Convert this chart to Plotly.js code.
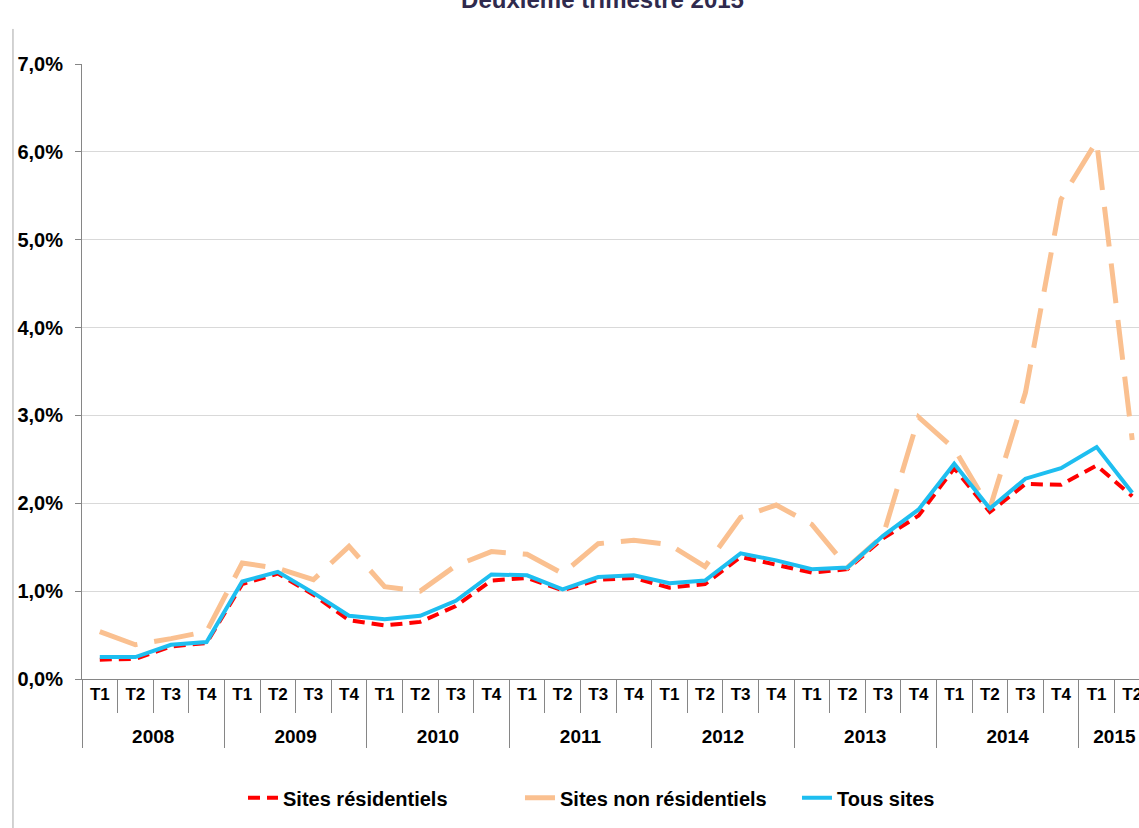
<!DOCTYPE html>
<html>
<head>
<meta charset="utf-8">
<script src="https://cdn.plot.ly/plotly-3.0.1.min.js"></script>
<style>html,body{margin:0;padding:0;background:#fff;}#chart{width:1139px;height:828px;}</style>
</head>
<body>
<div id="chart"></div>
<script>
// ---- data ----
var years = ['2008','2009','2010','2011','2012','2013','2014','2015'];
var quarters = ['T1','T2','T3','T4'];
var quartersPerYear = [4,4,4,4,4,4,4,2];

var residentiel = [0.22,0.23,0.37,0.41, 1.08,1.20,0.96,0.67, 0.61,0.65,0.83,1.12, 1.15,1.01,1.13,1.15,
                   1.04,1.08,1.39,1.30, 1.21,1.25,1.60,1.86, 2.40,1.90,2.22,2.21, 2.43,2.08];
var nonResidentiel = [0.54,0.39,0.46,0.54, 1.32,1.26,1.13,1.51, 1.05,1.00,1.29,1.45, 1.42,1.20,1.54,1.58,
                      1.53,1.28,1.84,1.98, 1.76,1.27,1.63,2.98, 2.62,1.94,3.26,5.46, 6.12,2.72];
var tousSites = [0.25,0.25,0.39,0.42, 1.11,1.22,0.98,0.72, 0.68,0.72,0.89,1.19, 1.18,1.02,1.16,1.18,
                 1.09,1.12,1.43,1.35, 1.25,1.27,1.63,1.93, 2.45,1.94,2.28,2.40, 2.64,2.12];

var seriesNames = ['Sites résidentiels','Sites non résidentiels','Tous sites'];
var yTickVals = [0,1,2,3,4,5,6,7];
var titleText = 'Deuxième trimestre 2015';

// ---- build multicategory x ----
var xYears = [], xQuarters = [];
years.forEach(function(y, i){
  var yl = '<span style="font-size:19px">' + y + '</span>';
  for (var q = 0; q < quartersPerYear[i]; q++){ xYears.push(yl); xQuarters.push(quarters[q] + '<br>&nbsp;'); }
});
var xMulti = [xYears, xQuarters];
var yTickText = yTickVals.map(function(v){ return v.toFixed(1).replace('.', ',') + '%'; });

var FONT = 'Liberation Sans, Arial, sans-serif';

var traces = [
  {x: xMulti, y: residentiel, name: seriesNames[0], type: 'scatter', mode: 'lines',
   line: {color: '#FF0000', width: 4, dash: '12px,7px'}},
  {x: xMulti, y: nonResidentiel, name: seriesNames[1], type: 'scatter', mode: 'lines',
   line: {color: '#FAC090', width: 5, dash: '40px,17px'}},
  {x: xMulti, y: tousSites, name: seriesNames[2], type: 'scatter', mode: 'lines',
   line: {color: '#1EBEF0', width: 4}}
];

var layout = {
  width: 1139, height: 828,
  margin: {l: 82, r: 0, t: 64, b: 149, pad: 0},
  paper_bgcolor: '#fff', plot_bgcolor: '#fff',
  font: {family: FONT, size: 15, color: '#000'},
  title: {text: '<b>' + titleText + '</b>', x: 0.529, xanchor: 'center', y: 1.0, yanchor: 'middle',
          yref: 'container', font: {family: FONT, size: 24, color: '#2F2A4D'}},
  showlegend: true,
  legend: {orientation: 'h', x: 0.5454, xanchor: 'center', y: -0.193, yanchor: 'middle',
           entrywidth: 232, entrywidthmode: 'pixels',
           font: {family: FONT, size: 20, color: '#000', weight: 'bold'}, traceorder: 'normal'},
  xaxis: {
    type: 'multicategory', range: [-0.5, 29.19],
    showline: true, linecolor: '#868686', linewidth: 1,
    ticks: 'outside', tickson: 'boundaries', ticklen: 33, tickcolor: '#868686', tickwidth: 1,
    showgrid: false, zeroline: false,
    showdividers: true, dividercolor: '#868686', dividerwidth: 1,
    tickfont: {family: FONT, size: 17, color: '#000', weight: 'bold'}
  },
  yaxis: {
    range: [0, 7], tickmode: 'array', tickvals: yTickVals, ticktext: yTickText,
    showline: true, linecolor: '#868686', linewidth: 1,
    ticks: 'outside', ticklen: 6, tickcolor: '#868686', ticklabelstandoff: 8,
    showgrid: true, gridcolor: '#D9D9D9', gridwidth: 1, zeroline: false,
    tickfont: {family: FONT, size: 20, color: '#000', weight: 'bold'}
  },
  shapes: [
    {type: 'line', xref: 'paper', yref: 'paper', x0: -0.0653, x1: -0.0653, y0: 1.057, y1: -0.25,
     line: {color: '#A6A6A6', width: 1}}
  ]
};

Plotly.newPlot('chart', traces, layout, {displayModeBar: false, staticPlot: true});
</script>
</body>
</html>
